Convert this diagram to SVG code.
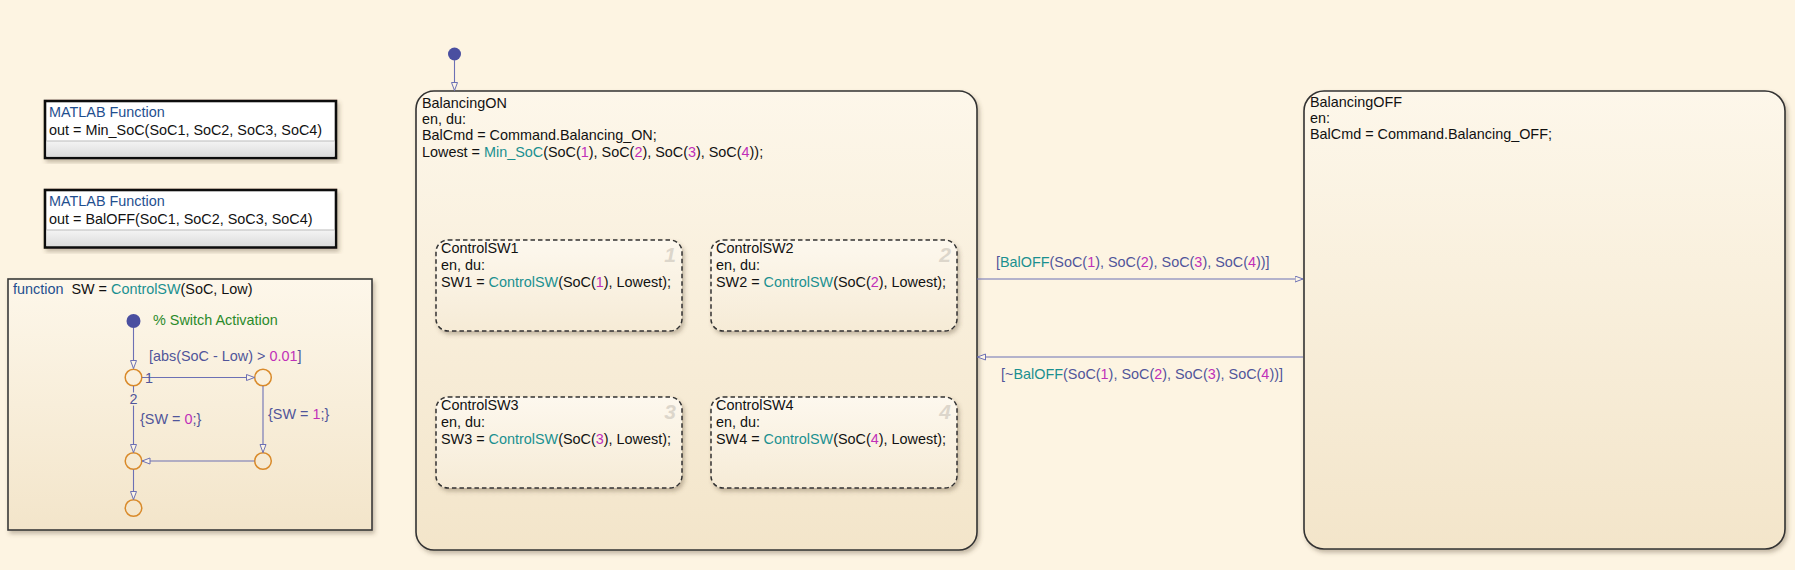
<svg xmlns="http://www.w3.org/2000/svg" width="1795" height="570" viewBox="0 0 1795 570">
<style>
text{font-family:"Liberation Sans",Arial,sans-serif;font-size:14.4px;fill:#111}
.kw{fill:#1f4f8f}
.fn{fill:#1a9090}
.num{fill:#c02fb8}
.lbl{fill:#50559a}
.cmt{fill:#2a8a2a}
.conn{fill:none;stroke:#6c70b4;stroke-width:1.1}
.junc{fill:none;stroke:#d98a2a;stroke-width:1.5}
.dot{fill:#4a4fa0}
.state{stroke:#333;stroke-width:1.6;fill:url(#gState)}
.sub{stroke:#333;stroke-width:1.5;stroke-dasharray:4.5 3;fill:url(#gSub)}
.ord{font-size:21px;font-weight:bold;font-style:italic;fill:#dcd6cb}
.mlf{fill:#fff;stroke:#111;stroke-width:2.6}
</style>
<defs>
<linearGradient id="gState" x1="0" y1="0" x2="0" y2="1">
<stop offset="0" stop-color="#fdf7ea"/><stop offset="1" stop-color="#f3e5ca"/>
</linearGradient>
<linearGradient id="gSub" x1="0" y1="0" x2="0" y2="1">
<stop offset="0" stop-color="#fdf8ee"/><stop offset="1" stop-color="#f6ebd6"/>
</linearGradient>
<linearGradient id="gBand" x1="0" y1="0" x2="0" y2="1">
<stop offset="0" stop-color="#f4f4f4"/><stop offset="1" stop-color="#dcdcdc"/>
</linearGradient>
<filter id="sh" x="-5%" y="-5%" width="110%" height="115%">
<feDropShadow dx="2" dy="3" stdDeviation="2" flood-color="#5a4a30" flood-opacity="0.35"/>
</filter>
<marker id="arr" markerWidth="10" markerHeight="8" refX="8.5" refY="3.5" orient="auto" markerUnits="userSpaceOnUse">
<path d="M0.5,0.5 L8.5,3.5 L0.5,6.5 z" fill="#fdf5e6" stroke="#6c70b4" stroke-width="1"/>
</marker>
</defs>
<rect width="1795" height="570" fill="#fdf4e2"/>

<g id="fn-minsoc">
<rect x="45" y="101" width="291" height="57" class="mlf" filter="url(#sh)"/>
<rect x="46.5" y="141" width="288" height="15.5" fill="url(#gBand)"/>
<line x1="46" y1="141" x2="335" y2="141" stroke="#bbb" stroke-width="1"/>
<text x="49" y="116.5" class="kw">MATLAB Function</text>
<text x="49" y="134.5">out = Min_SoC(SoC1, SoC2, SoC3, SoC4)</text>
</g>

<g id="fn-baloff">
<rect x="45" y="190" width="291" height="57.5" class="mlf" filter="url(#sh)"/>
<rect x="46.5" y="230" width="288" height="16" fill="url(#gBand)"/>
<line x1="46" y1="230" x2="335" y2="230" stroke="#bbb" stroke-width="1"/>
<text x="49" y="205.5" class="kw">MATLAB Function</text>
<text x="49" y="224">out = BalOFF(SoC1, SoC2, SoC3, SoC4)</text>
</g>

<g id="fn-controlsw">
<rect x="8" y="279" width="364" height="251" fill="url(#gState)" stroke="#3a3a3a" stroke-width="1.6" filter="url(#sh)"/>
<text x="13" y="294" xml:space="preserve"><tspan class="kw">function</tspan>  SW = <tspan class="fn">ControlSW</tspan>(SoC, Low)</text>
<text x="153" y="325" class="cmt">% Switch Activation</text>
</g>
<g id="cs-init"><circle cx="133.5" cy="321" r="7" class="dot"/></g>
<g id="cs-j1"><circle cx="133.5" cy="377.5" r="8.3" class="junc"/></g>
<g id="cs-j2"><circle cx="263" cy="377.5" r="8.3" class="junc"/></g>
<g id="cs-j3"><circle cx="133.5" cy="461" r="8.3" class="junc"/></g>
<g id="cs-j4"><circle cx="263" cy="461" r="8.3" class="junc"/></g>
<g id="cs-j5"><circle cx="133.5" cy="508" r="8.3" class="junc"/></g>

<g id="BalancingON">
<rect x="416" y="91" width="561" height="459" rx="18" class="state" filter="url(#sh)"/>
<text x="422" y="107.5">BalancingON</text>
<text x="422" y="124">en, du:</text>
<text x="422" y="140">BalCmd = Command.Balancing_ON;</text>
<text x="422" y="156.5">Lowest = <tspan class="fn">Min_SoC</tspan>(SoC(<tspan class="num">1</tspan>), SoC(<tspan class="num">2</tspan>), SoC(<tspan class="num">3</tspan>), SoC(<tspan class="num">4</tspan>));</text>
</g>

<g id="ControlSW1">
<rect x="436" y="240" width="246" height="91" rx="12" class="sub" filter="url(#sh)"/>
<text x="676" y="262" class="ord" text-anchor="end">1</text>
<text x="441" y="253">ControlSW1</text>
<text x="441" y="270">en, du:</text>
<text x="441" y="286.5">SW1 = <tspan class="fn">ControlSW</tspan>(SoC(<tspan class="num">1</tspan>), Lowest);</text>
</g>
<g id="ControlSW2">
<rect x="711" y="240" width="246" height="91" rx="12" class="sub" filter="url(#sh)"/>
<text x="951" y="262" class="ord" text-anchor="end">2</text>
<text x="716" y="253">ControlSW2</text>
<text x="716" y="270">en, du:</text>
<text x="716" y="286.5">SW2 = <tspan class="fn">ControlSW</tspan>(SoC(<tspan class="num">2</tspan>), Lowest);</text>
</g>
<g id="ControlSW3">
<rect x="436" y="397" width="246" height="91" rx="12" class="sub" filter="url(#sh)"/>
<text x="676" y="419" class="ord" text-anchor="end">3</text>
<text x="441" y="410">ControlSW3</text>
<text x="441" y="427">en, du:</text>
<text x="441" y="443.5">SW3 = <tspan class="fn">ControlSW</tspan>(SoC(<tspan class="num">3</tspan>), Lowest);</text>
</g>
<g id="ControlSW4">
<rect x="711" y="397" width="246" height="91" rx="12" class="sub" filter="url(#sh)"/>
<text x="951" y="419" class="ord" text-anchor="end">4</text>
<text x="716" y="410">ControlSW4</text>
<text x="716" y="427">en, du:</text>
<text x="716" y="443.5">SW4 = <tspan class="fn">ControlSW</tspan>(SoC(<tspan class="num">4</tspan>), Lowest);</text>
</g>

<g id="BalancingOFF">
<rect x="1304" y="91" width="481" height="458" rx="20" class="state" filter="url(#sh)"/>
<text x="1310" y="107">BalancingOFF</text>
<text x="1310" y="123">en:</text>
<text x="1310" y="139">BalCmd = Command.Balancing_OFF;</text>
</g>

<g id="init-on"><circle cx="454.5" cy="54" r="6.5" class="dot"/></g>

<g id="connectors">
<line x1="454.5" y1="60" x2="454.5" y2="90.5" class="conn" marker-end="url(#arr)"/>
<line x1="977" y1="279" x2="1303" y2="279" class="conn" marker-end="url(#arr)"/>
<text x="996" y="267" class="lbl">[<tspan class="fn">BalOFF</tspan>(SoC(<tspan class="num">1</tspan>), SoC(<tspan class="num">2</tspan>), SoC(<tspan class="num">3</tspan>), SoC(<tspan class="num">4</tspan>))]</text>
<line x1="1303" y1="357" x2="977.5" y2="357" class="conn" marker-end="url(#arr)"/>
<text x="1001" y="379" class="lbl">[~<tspan class="fn">BalOFF</tspan>(SoC(<tspan class="num">1</tspan>), SoC(<tspan class="num">2</tspan>), SoC(<tspan class="num">3</tspan>), SoC(<tspan class="num">4</tspan>))]</text>

<line x1="133.5" y1="328" x2="133.5" y2="368.5" class="conn" marker-end="url(#arr)"/>
<line x1="142" y1="377.5" x2="254.5" y2="377.5" class="conn" marker-end="url(#arr)"/>
<text x="145" y="382.5" class="lbl">1</text>
<text x="149" y="361" class="lbl">[abs(SoC - Low) &gt; <tspan class="num">0.01</tspan>]</text>
<line x1="133.5" y1="386" x2="133.5" y2="452.5" class="conn" marker-end="url(#arr)"/>
<text x="133.5" y="404" class="lbl" text-anchor="middle" style="paint-order:stroke" stroke="#f9eedb" stroke-width="3">2</text>
<text x="140" y="424" class="lbl">{SW = <tspan class="num">0</tspan>;}</text>
<line x1="263" y1="386" x2="263" y2="452.5" class="conn" marker-end="url(#arr)"/>
<text x="268" y="419" class="lbl">{SW = <tspan class="num">1</tspan>;}</text>
<line x1="254.5" y1="461" x2="142" y2="461" class="conn" marker-end="url(#arr)"/>
<line x1="133.5" y1="469.5" x2="133.5" y2="499.5" class="conn" marker-end="url(#arr)"/>
</g>
</svg>
